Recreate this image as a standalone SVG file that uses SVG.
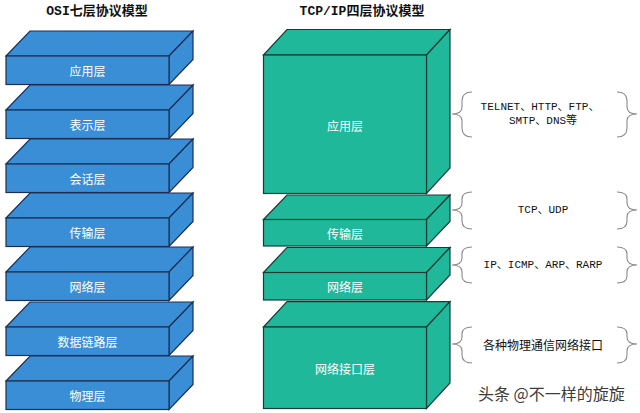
<svg xmlns="http://www.w3.org/2000/svg" width="640" height="413" viewBox="0 0 640 413">
<style>
.osi{fill:#3a8ed6;stroke:#1c2f52;stroke-width:1.2;stroke-linejoin:miter}
.tcp{fill:#1fb89a;stroke:#173d34;stroke-width:1.2;stroke-linejoin:miter}
.lbl{font-family:"Noto Sans CJK SC","Noto Sans",sans-serif;font-size:12px;fill:#ffffff;text-anchor:middle;dominant-baseline:central}
.title{font-family:"Liberation Mono","Noto Sans CJK SC",monospace;font-size:13px;font-weight:bold;fill:#111;text-anchor:middle;dominant-baseline:central}
.proto{font-family:"Liberation Mono","Noto Sans CJK SC",monospace;font-size:11px;fill:#111;text-anchor:middle;dominant-baseline:central}
.protos{font-family:"Noto Sans CJK SC",sans-serif;font-size:12px;fill:#111;text-anchor:middle;dominant-baseline:central}
.brace{fill:none;stroke:#8a8a8a;stroke-width:1.1}
.wm{font-family:"Noto Sans CJK SC",sans-serif;font-size:16px;fill:#3c3c3c;stroke:#ffffff;stroke-width:0.6;paint-order:stroke;dominant-baseline:central}
</style>
<rect width="640" height="413" fill="#ffffff"/>
<text class="title" x="97" y="11.5">OSI七层协议模型</text>
<text class="title" x="362" y="11.5">TCP/IP四层协议模型</text>
<g id="osi-application">
<polygon class="osi" points="6,56 30,31 193,31 169,56"/>
<polygon class="osi" points="169,56 193,31 193,59.5 169,84.5"/>
<rect class="osi" x="6" y="56" width="163" height="28.5"/>
<text class="lbl" x="87.5" y="70">应用层</text>
</g>
<g id="osi-presentation">
<polygon class="osi" points="6,110 30,85 193,85 169,110"/>
<polygon class="osi" points="169,110 193,85 193,113.5 169,138.5"/>
<rect class="osi" x="6" y="110" width="163" height="28.5"/>
<text class="lbl" x="87.5" y="124">表示层</text>
</g>
<g id="osi-session">
<polygon class="osi" points="6,164 30,139 193,139 169,164"/>
<polygon class="osi" points="169,164 193,139 193,167.5 169,192.5"/>
<rect class="osi" x="6" y="164" width="163" height="28.5"/>
<text class="lbl" x="87.5" y="178">会话层</text>
</g>
<g id="osi-transport">
<polygon class="osi" points="6,218 30,193 193,193 169,218"/>
<polygon class="osi" points="169,218 193,193 193,221.5 169,246.5"/>
<rect class="osi" x="6" y="218" width="163" height="28.5"/>
<text class="lbl" x="87.5" y="232">传输层</text>
</g>
<g id="osi-network">
<polygon class="osi" points="6,272 30,247 193,247 169,272"/>
<polygon class="osi" points="169,272 193,247 193,275.5 169,300.5"/>
<rect class="osi" x="6" y="272" width="163" height="28.5"/>
<text class="lbl" x="87.5" y="286">网络层</text>
</g>
<g id="osi-datalink">
<polygon class="osi" points="6,327 30,302 193,302 169,327"/>
<polygon class="osi" points="169,327 193,302 193,330.5 169,355.5"/>
<rect class="osi" x="6" y="327" width="163" height="28.5"/>
<text class="lbl" x="87.5" y="341">数据链路层</text>
</g>
<g id="osi-physical">
<polygon class="osi" points="6,381 30,356 193,356 169,381"/>
<polygon class="osi" points="169,381 193,356 193,384.5 169,409.5"/>
<rect class="osi" x="6" y="381" width="163" height="28.5"/>
<text class="lbl" x="87.5" y="395">物理层</text>
</g>
<g id="tcp-application">
<polygon class="tcp" points="263.5,55 287,29.5 450,29.5 426.5,55"/>
<polygon class="tcp" points="426.5,55 450,29.5 450,168 426.5,193.5"/>
<rect class="tcp" x="263.5" y="55" width="163" height="138.5"/>
<text class="lbl" x="345" y="125">应用层</text>
</g>
<g id="tcp-transport">
<polygon class="tcp" points="263.5,219.5 287,195 450,195 426.5,219.5"/>
<polygon class="tcp" points="426.5,219.5 450,195 450,221.5 426.5,246"/>
<rect class="tcp" x="263.5" y="219.5" width="163" height="26.5"/>
<text class="lbl" x="345" y="233">传输层</text>
</g>
<g id="tcp-network">
<polygon class="tcp" points="263.5,272.5 287,247.5 450,247.5 426.5,272.5"/>
<polygon class="tcp" points="426.5,272.5 450,247.5 450,275 426.5,300"/>
<rect class="tcp" x="263.5" y="272.5" width="163" height="27.5"/>
<text class="lbl" x="345" y="286">网络层</text>
</g>
<g id="tcp-interface">
<polygon class="tcp" points="263.5,327 287,301.7 450,301.7 426.5,327"/>
<polygon class="tcp" points="426.5,327 450,301.7 450,383 426.5,408.5"/>
<rect class="tcp" x="263.5" y="327" width="163" height="81.5"/>
<text class="lbl" x="345" y="368">网络接口层</text>
</g>
<g id="connectors">
<path class="brace" d="M472,92 Q462,92 462,101 L462,107 Q462,114 452,114 Q462,114 462,121 L462,128 Q462,137 472,137"/>
<path class="brace" d="M617,92 Q627,92 627,101 L627,107 Q627,114 637,114 Q627,114 627,121 L627,128 Q627,137 617,137"/>
<path class="brace" d="M472,192 Q462,192 462,199 L462,203 Q462,210 452,210 Q462,210 462,217 L462,221 Q462,229 472,229"/>
<path class="brace" d="M617,192 Q627,192 627,199 L627,203 Q627,210 637,210 Q627,210 627,217 L627,221 Q627,229 617,229"/>
<path class="brace" d="M472,247 Q462,247 462,254 L462,258 Q462,265 452,265 Q462,265 462,272 L462,276 Q462,283 472,283"/>
<path class="brace" d="M617,247 Q627,247 627,254 L627,258 Q627,265 637,265 Q627,265 627,272 L627,276 Q627,283 617,283"/>
<path class="brace" d="M472,327 Q462,327 462,334 L462,337 Q462,344 452,344 Q462,344 462,351 L462,355 Q462,363 472,363"/>
<path class="brace" d="M617,327 Q627,327 627,334 L627,337 Q627,344 637,344 Q627,344 627,351 L627,355 Q627,363 617,363"/>
</g>
<text class="proto" x="540" y="107">TELNET、HTTP、FTP、</text>
<text class="proto" x="543" y="121">SMTP、DNS等</text>
<text class="proto" x="543" y="210">TCP、UDP</text>
<text class="proto" x="543" y="265">IP、ICMP、ARP、RARP</text>
<text class="protos" x="543" y="344">各种物理通信网络接口</text>
<text class="wm" x="478" y="393">头条 @不一样的旋旋</text>
</svg>
